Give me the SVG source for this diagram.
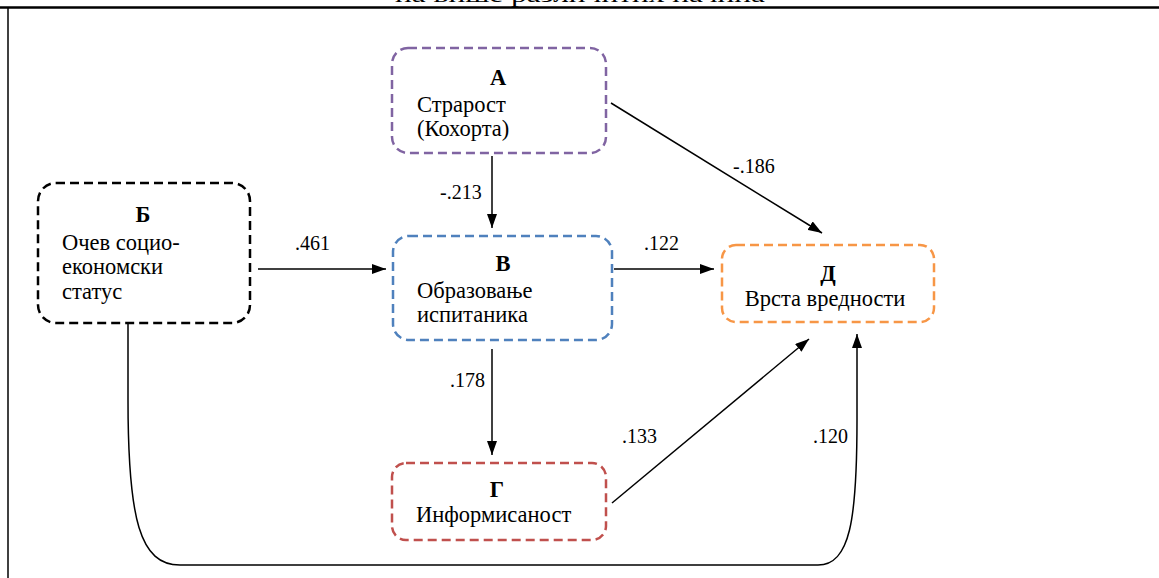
<svg xmlns="http://www.w3.org/2000/svg" width="1159" height="578" viewBox="0 0 1159 578">
<defs>
<marker id="ah" viewBox="0 0 14 10" refX="14" refY="5" markerWidth="14" markerHeight="10" markerUnits="userSpaceOnUse" orient="auto">
<path d="M0,0 L14,5 L0,10 Z" fill="#000"/>
</marker>
<style>
.box{fill:#fff;stroke-width:2.5;stroke-dasharray:9,5}
.c{fill:none;stroke:#000;stroke-width:1.5}
</style>
</defs>
<rect width="1159" height="578" fill="#fff"/>
<text x="395" y="2" font-family="'Liberation Serif'" font-size="22" textLength="370" lengthAdjust="spacingAndGlyphs">на више различитих начина</text>
<line x1="0" y1="7.5" x2="1159" y2="7.5" stroke="#000" stroke-width="2.5"/>
<line x1="8" y1="7" x2="8" y2="578" stroke="#000" stroke-width="1.5"/>

<g id="connectors">
<line class="c" x1="611" y1="103" x2="822" y2="233" marker-end="url(#ah)"/>
<line class="c" x1="492" y1="156" x2="492" y2="228" marker-end="url(#ah)"/>
<line class="c" x1="258" y1="269" x2="386" y2="269" marker-end="url(#ah)"/>
<line class="c" x1="614" y1="269" x2="714" y2="269" marker-end="url(#ah)"/>
<line class="c" x1="492" y1="349" x2="492" y2="455" marker-end="url(#ah)"/>
<line class="c" x1="612" y1="503" x2="809" y2="339" marker-end="url(#ah)"/>
<path class="c" d="M128,323 L128,400 C128,520 140,565 180,565 L818,565 C850,565 857,520 857,420 L857,334" marker-end="url(#ah)"/>
<text font-family="'Liberation Serif'" font-size="20" x="733" y="173">-.186</text>
<text font-family="'Liberation Serif'" font-size="20" x="440" y="199">-.213</text>
<text font-family="'Liberation Serif'" font-size="20" x="295" y="250">.461</text>
<text font-family="'Liberation Serif'" font-size="20" x="644" y="250">.122</text>
<text font-family="'Liberation Serif'" font-size="20" x="450" y="387">.178</text>
<text font-family="'Liberation Serif'" font-size="20" x="622" y="443">.133</text>
<text font-family="'Liberation Serif'" font-size="20" x="813" y="443">.120</text>
</g>

<g id="node-a">
<rect class="box" x="392" y="48" width="214" height="105" rx="16" stroke="#8064A2"/>
<text font-family="'Liberation Serif'" font-size="22.5" font-weight="bold" text-anchor="middle" x="498" y="85">А</text>
<text font-family="'Liberation Serif'" font-size="22.5" x="417" y="112">Страрост</text>
<text font-family="'Liberation Serif'" font-size="22.5" x="417" y="136">(Кохорта)</text>
</g>

<g id="node-b">
<rect class="box" x="38" y="183" width="212" height="140" rx="18" stroke="#000"/>
<text font-family="'Liberation Serif'" font-size="22.5" font-weight="bold" text-anchor="middle" x="143" y="222">Б</text>
<text font-family="'Liberation Serif'" font-size="22.5" x="62" y="250">Очев социо-</text>
<text font-family="'Liberation Serif'" font-size="22.5" x="62" y="274">економски</text>
<text font-family="'Liberation Serif'" font-size="22.5" x="62" y="299">статус</text>
</g>

<g id="node-v">
<rect class="box" x="393" y="236" width="219" height="104" rx="16" stroke="#4F81BD"/>
<text font-family="'Liberation Serif'" font-size="22.5" font-weight="bold" text-anchor="middle" x="503" y="271">В</text>
<text font-family="'Liberation Serif'" font-size="22.5" x="417" y="298">Образовање</text>
<text font-family="'Liberation Serif'" font-size="22.5" x="417" y="322">испитаника</text>
</g>

<g id="node-d">
<rect class="box" x="722" y="245" width="212" height="77" rx="14" stroke="#F79646"/>
<text font-family="'Liberation Serif'" font-size="22.5" font-weight="bold" text-anchor="middle" x="828" y="281">Д</text>
<text font-family="'Liberation Serif'" font-size="22.5" text-anchor="middle" x="825" y="306">Врста вредности</text>
</g>

<g id="node-g">
<rect class="box" x="392" y="463" width="214" height="77" rx="14" stroke="#C0504D"/>
<text font-family="'Liberation Serif'" font-size="22.5" font-weight="bold" text-anchor="middle" x="497" y="497">Г</text>
<text font-family="'Liberation Serif'" font-size="22.5" x="416" y="522">Информисаност</text>
</g>
</svg>
